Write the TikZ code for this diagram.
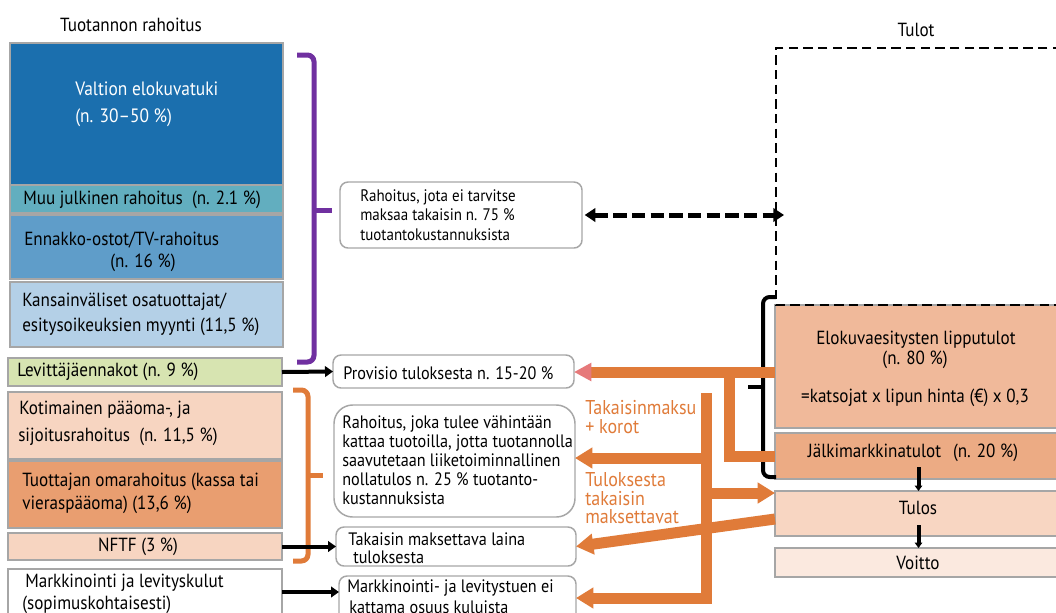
\documentclass[tikz,border=0pt]{standalone}
\usepackage{fontspec}
\setmainfont{PT Sans}[FakeStretch=0.9]
\usetikzlibrary{arrows.meta,fit,calc}
\definecolor{valt}{RGB}{27,111,174}
\definecolor{muu}{RGB}{98,174,191}
\definecolor{enn}{RGB}{95,157,201}
\definecolor{kans}{RGB}{180,208,231}
\definecolor{lev}{RGB}{215,228,177}
\definecolor{koti}{RGB}{247,213,193}
\definecolor{tuot}{RGB}{233,158,112}
\definecolor{bxgray}{RGB}{166,166,166}
\definecolor{purp}{RGB}{112,48,160}
\definecolor{orng}{RGB}{224,123,57}
\definecolor{pinkh}{RGB}{230,121,122}
\definecolor{elokc}{RGB}{240,185,154}
\definecolor{jalkc}{RGB}{236,171,132}
\definecolor{tulosc}{RGB}{248,214,194}
\definecolor{voitc}{RGB}{251,233,223}
\newcommand\myfsb{\fontsize{13.5pt}{16pt}\selectfont}
\newcommand\myfsl{\fontsize{14.25pt}{16pt}\selectfont}
\newcommand\myfsv{\fontsize{14.5pt}{17pt}\selectfont}
\newcommand\myfst{\fontsize{14.25pt}{17pt}\selectfont}
\newcommand\myfso{\fontsize{15pt}{14.25pt}\selectfont}
\newcommand\myfsr{\fontsize{12.5pt}{14.6pt}\selectfont}
\newcommand\myfsq{\fontsize{13.5pt}{14.25pt}\selectfont}
\begin{document}
\begin{tikzpicture}[x=0.75pt,y=-0.75pt,
  bx/.style={draw=bxgray,line width=1.1pt,inner sep=0pt,outer sep=0pt},
  rbx/.style={draw=bxgray,line width=1.1pt,fill=white,rounded corners=6pt,inner sep=0pt,outer sep=0pt},
  txt/.style={inner sep=0pt,anchor=west,font=\myfsb},
  ltxt/.style={inner sep=0pt,anchor=west,font=\myfsl},
  ctxt/.style={inner sep=0pt,anchor=center,font=\myfsb},
  rtxt/.style={inner sep=0pt,anchor=center,font=\myfsl},
  otxt/.style={inner sep=0pt,anchor=west,font=\myfso,text=orng},
  blk/.style={draw=black,line width=3pt,-{Triangle[length=6pt,width=8pt]}},
  blks/.style={draw=black,line width=3pt,-{Triangle[length=4pt,width=5.5pt]}},
  orl/.style={draw=orng,line width=8.25pt},
  ora/.style={orl,-{Triangle[length=13pt,width=15pt]}},
  brk/.style={line width=3.75pt,rounded corners=5pt},
  dashln/.style={draw=black,line width=1.2pt,dash pattern=on 7pt off 4pt},
  dbl/.style={draw=black,line width=3.75pt,dash pattern=on 10pt off 4pt,
     {Triangle[length=8pt,width=10pt]}-{Triangle[length=8pt,width=10pt]}}
]
\path[use as bounding box,clip] (0,0) rectangle (1056,612);
\fill[white] (0,0) rectangle (1056,612);

% y levels
\coordinate (y372) at (0,372);
\coordinate (y456) at (0,456);
\coordinate (y458) at (0,458);
\coordinate (y493) at (0,493);
\coordinate (y519) at (0,519);
\coordinate (y592) at (0,592);

% titles
\node[ctxt,font=\myfst] (ttl) at (131,25) {Tuotannon rahoitus};
\node[ctxt,font=\myfst] (tulot) at (916,30) {Tulot};

% left column
\node[bx,fill=valt,fit={(10,43)(283,185)}] (valt) {};
\node[bx,fill=muu,fit={(10,185)(283,213)}] (muu) {};
\node[bx,fill=enn,fit={(10,215)(283,279)}] (enn) {};
\node[bx,fill=kans,fit={(10,282)(283,347)}] (kans) {};
\node[bx,fill=lev,fit={(8,358)(282,386)}] (lev) {};
\node[bx,fill=koti,fit={(8,392)(282,459)}] (koti) {};
\node[bx,fill=tuot,fit={(8,461)(282,528)}] (tuot) {};
\node[bx,fill=koti,fit={(8,533)(282,560)}] (nftf) {};
\node[bx,fill=white,fit={(8,569)(282,625)}] (mk) {};

\node[txt,font=\myfsv,text=white] (tva) at (75,89) {Valtion elokuvatuki};
\node[txt,font=\myfsv,text=white] (tvb) at (75,118) {(n. 30--50 \%)};
\node[ltxt] (tmu) at (23,200) {Muu julkinen rahoitus\ \ (n. 2.1 \%)};
\node[ltxt] (tea) at (24,240) {Ennakko-ostot/TV-rahoitus};
\node[rtxt] (teb) at (143,263) {(n. 16 \%)};
\node[ltxt] (tka) at (22,302) {Kansainväliset osatuottajat/};
\node[ltxt] (tkb) at (22,327) {esitysoikeuksien myynti (11,5 \%)};
\node[ltxt] (tle) at (17,372) {Levittäjäennakot (n. 9 \%)};
\node[ltxt] (tkoa) at (19,410) {Kotimainen pääoma-, ja};
\node[ltxt] (tkob) at (18,437) {sijoitusrahoitus\ \ (n. 11,5 \%)};
\node[ltxt] (ttua) at (22,482) {Tuottajan omarahoitus (kassa tai};
\node[ltxt] (ttub) at (22,505) {vieraspääoma) (13,6 \%)};
\node[rtxt] (tnf) at (138,547) {NFTF (3 \%)};
\node[ltxt] (tmka) at (25,583) {Markkinointi ja levityskulut};
\node[ltxt] (tmkb) at (22,605) {(sopimuskohtaisesti)};

% middle boxes
\node[rbx,fit={(340,182)(582,248)}] (r1) {};
\node[rbx,fit={(333,355)(574,388)}] (prov) {};
\node[rbx,rounded corners=14pt,fit={(334,405)(575,517)}] (r2) {};
\node[rbx,fit={(336,527)(576,566)}] (tak) {};
\node[rbx,fit={(339,576)(576,625)}] (mk2) {};

\node[txt,font=\myfsr,align=left] (tr1) at (360,215) {Rahoitus, jota ei tarvitse\\maksaa takaisin n. 75 \%\\tuotantokustannuksista};
\node[txt] (tpr) at (343,373) {Provisio tuloksesta n. 15-20 \%};
\node[txt,font=\myfsq,align=left] (tr2) at (342,460) {Rahoitus, joka tulee vähintään\\kattaa tuotoilla, jotta tuotannolla\\saavutetaan liiketoiminnallinen\\nollatulos n. 25 \% tuotanto-\\kustannuksista};
\node[txt] (ttaa) at (348,539) {Takaisin maksettava laina};
\node[txt] (ttab) at (353,557) {tuloksesta};
\node[txt] (tm2a) at (347,588) {Markkinointi- ja levitystuen ei};
\node[txt] (tm2b) at (349,607) {kattama osuus kuluista};

% right boxes
\node[bx,fill=elokc,fit={(775,305)(1062,428)}] (elok) {};
\node[bx,fill=jalkc,fit={(775,433)(1062,479)}] (jalk) {};
\node[bx,fill=tulosc,fit={(775,491)(1062,536)}] (tulos) {};
\node[bx,fill=voitc,fit={(775,548)(1062,577)}] (voit) {};
\draw[dashln] (1062,48) -- (776,48) -- (776,305) -- (1062,305);

\node[rtxt] (tela) at (916,340) {Elokuvaesitysten lipputulot};
\node[rtxt] (telb) at (915,360) {(n. 80 \%)};
\node[rtxt] (telc) at (915,398) {=katsojat x lipun hinta (€) x 0,3};
\node[rtxt] (tja) at (913,453) {Jälkimarkkinatulot\hspace{9pt}(n. 20 \%)};
\node[rtxt] (ttu) at (918,508) {Tulos};
\node[rtxt] (tvo) at (918,563) {Voitto};

% brackets
\draw[brk,purp] (297,55) -- (314,55) -- (314,362) -- (297,362);
\draw[line width=3.75pt,purp] (314,210) -- (332,210);
\draw[brk,orng] (293,390) -- (308,390) -- (308,561) -- (293,561);
\draw[line width=3.75pt,orng] (308,475) -- (323,475);
\draw[line width=3pt,rounded corners=5pt] (776,297) -- (763,297) -- (763,477) -- (776,477);
\draw[line width=3pt] (763,387) -- (748,387);

% double dashed arrow
\coordinate (tl) at (784,215);
\draw[dbl] ([xshift=2pt]r1.east) -- (tl);

% black arrows
\draw[blk] (lev.east) -- (prov.west);
\draw[blk] (nftf.east) -- (tak.west);
\draw[blk] (mk.east |- y592) -- (mk2.west |- y592);
\draw[blks] ($(jalk.south)+(0,-12)$) -- (tulos.north);
\draw[blks] ($(tulos.south)+(0,-11)$) -- (voit.north);

% orange flows
\coordinate (vt) at (706,393);
\coordinate (vb) at (706,598);
\coordinate (j1) at (729,372);
\draw[orl] (jalk.west |- y456) -| (j1);
\draw[orl,-{Triangle[length=13pt,width=13pt,color=pinkh]}] (elok.west |- y372) -- (prov.east |- y372);
\draw[ora] (vt) -- (vb) -- (mk2.east |- vb);
\draw[ora] (vt |- y458) -- (r2.east |- y458);
\draw[ora] (vt |- y493) -- (tulos.west |- y493);
\draw[ora] (tulos.west |- y519) -- (tak.east);

% orange labels
\node[otxt] (oa) at (585,408) {Takaisinmaksu};
\node[otxt] (ob) at (585,427) {+ korot};
\node[otxt] (oc) at (585,480) {Tuloksesta};
\node[otxt] (od) at (585,499) {takaisin};
\node[otxt] (oe) at (585,517) {maksettavat};
\end{tikzpicture}
\end{document}
